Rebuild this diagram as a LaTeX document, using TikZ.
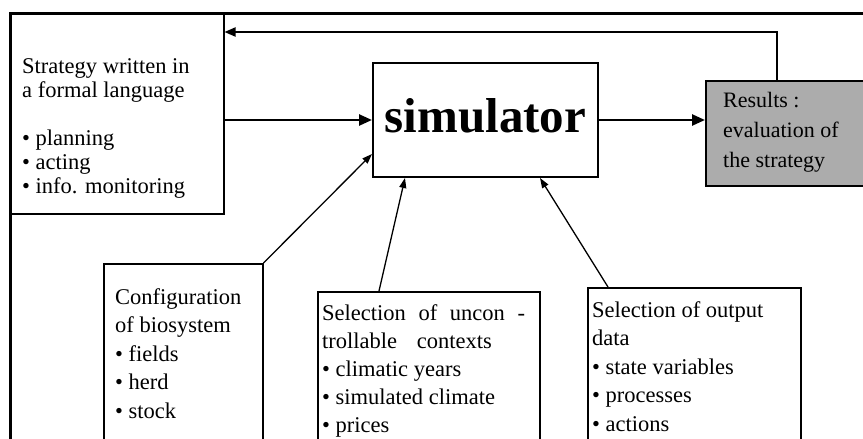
\documentclass[tikz,border=0pt]{standalone}
\usepackage{fontspec}
\setmainfont{Liberation Serif}
\usetikzlibrary{arrows.meta}
\begin{document}
\begin{tikzpicture}[x=1pt,y=-1pt,
  box/.style={draw, line width=1.5pt, rectangle, inner sep=0pt, anchor=north west},
  txt/.style={inner sep=0pt, anchor=north west, align=left, font=\fontsize{22.5}{28.5}\selectfont},
  flow/.style={line width=2.5pt, -{Triangle[length=13pt,width=11pt]}},
  feed/.style={line width=2pt, -{Triangle[length=11pt,width=9pt]}},
  link/.style={line width=1.3pt, -{Triangle[length=10pt,width=7pt]}},
  resultfill/.style={fill={rgb,255:red,172;green,172;blue,172}},
]
\useasboundingbox (0,0) rectangle (863,439);
\clip (0,0) rectangle (863,439);

% strategy box
\node[box, minimum width=213pt, minimum height=200pt] (strat) at (10,13) {};
\node[txt, font=\fontsize{22.5}{24}\selectfont] (strattxt) at (22,58)
  {Strategy written in\\a formal language\\[24pt]\textbullet{} planning\\\textbullet{} acting\\\textbullet{} info. monitoring};

% simulator
\node[box, line width=2pt, minimum width=225pt, minimum height=114pt,
      font=\fontsize{49}{49}\selectfont\bfseries, text depth=8.6pt] (sim) at (372,62) {simulator};

% results
\node[box, resultfill, minimum width=170pt, minimum height=105pt] (res) at (705,80) {};
\node[txt, font=\fontsize{22}{30}\selectfont] (restxt) at (723,92)
  {Results :\\evaluation of\\the strategy};

% bottom boxes
\node[box, minimum width=159pt, minimum height=200pt] (conf) at (103,263) {};
\node[txt] (conftxt) at (115,288)
  {Configuration\\of biosystem\\\textbullet{} fields\\\textbullet{} herd\\\textbullet{} stock};

\node[box, minimum width=222pt, minimum height=170pt] (uncon) at (317,291) {};
\node[txt, font=\fontsize{22.5}{28}\selectfont] (uncontxt) at (322,304)
  {Selection\hspace{7pt} of\hspace{7pt} uncon\hspace{7pt} -\\trollable\hspace{14pt} contexts\\\textbullet{} climatic years\\\textbullet{} simulated climate\\\textbullet{} prices};

\node[box, minimum width=213pt, minimum height=170pt] (out) at (587,287) {};
\node[txt] (outtxt) at (592,301)
  {Selection of output\\data\\\textbullet{} state variables\\\textbullet{} processes\\\textbullet{} actions};

% outer frame
\coordinate (frameTL) at (10,13);
\coordinate (frameTR) at (870,13);
\coordinate (frameBL) at (10,445);
\draw[line width=3pt] (frameTR) -- (frameTL) -- (frameBL);

% connectors
\coordinate (fbturn) at (0,32);
\draw[flow] (sim.west -| strat.east) -- (sim.west);
\draw[flow] (sim.east) -- (sim.east -| res.west);
\draw[feed] ([xshift=72pt]res.north west) |- (strat.east |- fbturn);
\draw[link] (conf.north east) -- ([yshift=-34pt]sim.west);
\draw[link] ([xshift=62pt]uncon.north west) -- ([xshift=33pt]sim.south west);
\draw[link] ([xshift=21pt]out.north west) -- ([xshift=168pt]sim.south west);
\end{tikzpicture}
\end{document}
